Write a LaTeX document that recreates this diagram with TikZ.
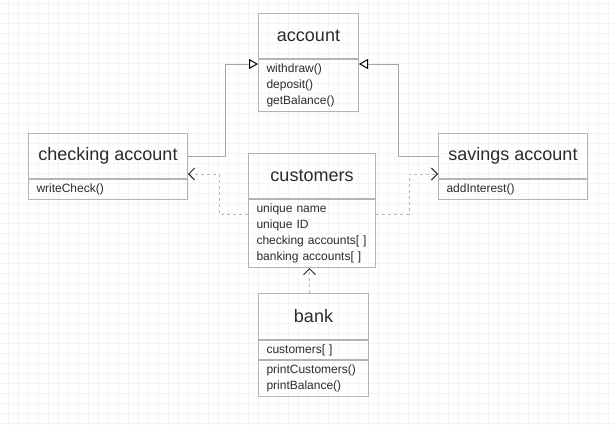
\documentclass[tikz,border=0pt]{standalone}
\usepackage{fontspec}
\setmainfont{Liberation Sans}
\usepackage{tikz}
\usetikzlibrary{arrows.meta, calc}
\definecolor{txtgray}{HTML}{2B2B2B}
\definecolor{boxgray}{HTML}{B3B3B3}
\definecolor{linegray}{HTML}{A6A6A6}
\definecolor{dashgray}{HTML}{BDBDBD}
\definecolor{gridgray}{HTML}{F4F4F4}

\tikzset{
  gridline/.style={gridgray, line width=0.8pt},
  classtitle/.style={draw=boxgray, line width=1pt, anchor=north west, inner sep=0pt,
    text=txtgray, font=\fontsize{18}{20}\selectfont},
  classlist/.style={draw=boxgray, line width=1pt, anchor=north west, inner xsep=8pt, inner ysep=0pt,
    text=txtgray, align=left, font=\fontsize{12}{16}\selectfont},
  inherit/.style={linegray, line width=1pt,
    -{Triangle[open, length=9pt, width=10pt, color=black, fill=white]}},
  depends/.style={dashgray, line width=1pt, dash pattern=on 3pt off 3pt,
    -{Straight Barb[length=6pt, width=12pt, color=txtgray]}},
}

\begin{document}
\begin{tikzpicture}[x=1pt, y=-1pt]
\useasboundingbox (0,0) rectangle (615,426);
% Background grid
\foreach \gx in {8,18,...,608} \draw[gridline] (\gx,0) -- (\gx,426);
\foreach \gy in {3,13,...,423} \draw[gridline] (0,\gy) -- (615,\gy);
% ---- account ----
\node[classtitle, minimum width=100pt, minimum height=45pt] (acctt) at (258,13) {account};
\node[classlist, minimum height=52pt, text width=84pt] (acctl) at (acctt.south west)
  {withdraw()\\deposit()\\getBalance()};
% ---- checking account ----
\node[classtitle, minimum width=159pt, minimum height=45pt] (checkt) at (28,133) {checking account};
\node[classlist, minimum height=20pt, text width=143pt] (checkl) at (checkt.south west)
  {writeCheck()};
% ---- savings account ----
\node[classtitle, minimum width=149pt, minimum height=45pt] (savt) at (438,133) {savings account};
\node[classlist, minimum height=20pt, text width=133pt] (savl) at (savt.south west)
  {addInterest()};
% ---- customers ----
\node[classtitle, minimum width=127pt, minimum height=45pt] (custt) at (248,153) {customers};
\node[classlist, minimum height=68pt, text width=111pt] (custl) at (custt.south west)
  {unique name\\unique ID\\checking accounts[~]\\banking accounts[~]};
% ---- bank ----
\node[classtitle, minimum width=110pt, minimum height=46pt] (bankt) at (258,293) {bank};
\node[classlist, minimum height=19pt, text width=94pt] (banka) at (bankt.south west)
  {customers[~]};
\node[classlist, minimum height=36pt, text width=94pt] (bankm) at (banka.south west)
  {printCustomers()\\printBalance()};
% Generalisation
\draw[inherit] (checkt.east) -- ++(37,0) |- ([yshift=-5pt]acctl.north west);
\draw[inherit] (savt.west) -- ++(-40,0) |- ([yshift=-5pt]acctl.north east);
% Dependencies
\draw[depends] ([yshift=-15pt]custl.north west) -- ++(-29,0) |- ([yshift=5pt]checkt.south east);
\draw[depends] ([yshift=-15pt]custl.north east) -- ++(33,0) |- ([yshift=5pt]savt.south west);
\draw[depends] ([xshift=-4pt]bankt.north) -- ([xshift=-4pt]bankt.north |- custl.south);
\end{tikzpicture}
\end{document}
